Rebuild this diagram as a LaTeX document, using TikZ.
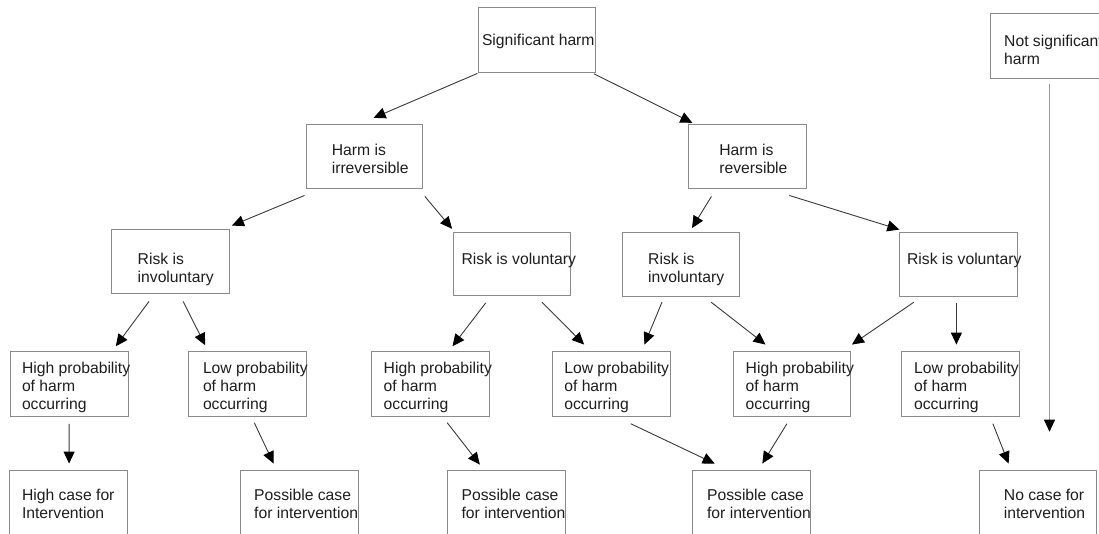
\documentclass[tikz,border=0pt]{standalone}
\usepackage{fontspec}
\setmainfont{Liberation Sans}
\usetikzlibrary{arrows.meta,calc}
\definecolor{boxgray}{HTML}{8A8A8A}
\definecolor{linegray}{HTML}{3A3A3A}
\definecolor{vgray}{HTML}{9A9A9A}
\definecolor{txt}{HTML}{1E1E1E}
\tikzset{
  box/.style={draw=boxgray, line width=0.9pt, inner sep=0pt, minimum width=117.5pt, minimum height=64.5pt},
  lbl/.style={anchor=north west, inner sep=0pt, align=left, text=txt, font=\fontsize{15.7}{18}\selectfont},
  arr/.style={draw=linegray, line width=0.9pt, -{Triangle[length=12pt,width=11pt,color=black]}},
  varr/.style={draw=vgray, line width=0.9pt, -{Triangle[length=12pt,width=11pt,color=black]}}
}
\begin{document}
\begin{tikzpicture}[x=1pt,y=-1pt]
\useasboundingbox (0,0) rectangle (1099,533);
\fill[white] (0,0) rectangle (1099,533);
\clip (0,0) rectangle (1099,533);
% boxes
\node[box, minimum width=116.7pt, minimum height=65pt] (sig) at (536.65,40) {};
\node[box, minimum width=120pt, minimum height=65.4pt] (nsh) at (1050,46) {};
\node[box, minimum width=116.7pt, minimum height=64pt] (hi) at (364.35,156.3) {};
\node[box, minimum width=118.2pt, minimum height=64.3pt] (hr) at (747.7,156.15) {};
\node[box, minimum width=118.2pt, minimum height=64pt] (ril) at (170.6,261.3) {};
\node[box, minimum width=117.6pt, minimum height=63.5pt] (rvl) at (512,264) {};
\node[box, minimum width=117.4pt, minimum height=63.7pt] (rir) at (680.7,264.15) {};
\node[box, minimum width=117.6pt, minimum height=63.7pt] (rvr) at (958.6,264.15) {};
\node[box, minimum height=65pt] (hp1) at (69.25,383.5) {};
\node[box, minimum height=65pt] (lp1) at (247.45,383.5) {};
\node[box, minimum height=65pt] (hp2) at (430.55,383.5) {};
\node[box, minimum height=65pt] (lp2) at (611.25,383.5) {};
\node[box, minimum height=65pt, minimum width=116.8pt] (hp3) at (792.3,383.5) {};
\node[box, minimum height=65pt, minimum width=117.4pt] (lp3) at (960.3,383.5) {};
\node[box, minimum height=70pt] (hc) at (68.4,505) {};
\node[box, minimum height=70pt] (pc1) at (299.35,505) {};
\node[box, minimum height=70pt] (pc2) at (506.3,505) {};
\node[box, minimum height=70pt] (pc3) at (751.65,505) {};
\node[box, minimum height=70pt, minimum width=116.5pt] (nc) at (1038.15,505) {};
% texts
\node[lbl] (sigt) at (481.8,34.2) {Significant harm};
\node[lbl] (nsht) at (1004,34.7) {Not significant\\harm};
\node[lbl] (hit) at (331.6,144.4) {Harm is\\irreversible};
\node[lbl] (hrt) at (719.2,144.4) {Harm is\\reversible};
\node[lbl] (rilt) at (137.5,252.7) {Risk is\\involuntary};
\node[lbl] (rvlt) at (461.4,252.7) {Risk is voluntary};
\node[lbl] (rirt) at (648,252.7) {Risk is\\involuntary};
\node[lbl] (rvrt) at (906.9,252.7) {Risk is voluntary};
\node[lbl] (hp1t) at (21.8,361.7) {High probability\\of harm\\occurring};
\node[lbl] (lp1t) at (202.8,361.7) {Low probability\\of harm\\occurring};
\node[lbl] (hp2t) at (383.5,361.7) {High probability\\of harm\\occurring};
\node[lbl] (lp2t) at (564.1,361.7) {Low probability\\of harm\\occurring};
\node[lbl] (hp3t) at (745.5,361.7) {High probability\\of harm\\occurring};
\node[lbl] (lp3t) at (913.9,361.7) {Low probability\\of harm\\occurring};
\node[lbl] (hct) at (21.8,489.4) {High case for\\Intervention};
\node[lbl] (pc1t) at (254,489.4) {Possible case\\for intervention};
\node[lbl] (pc2t) at (461.4,489.4) {Possible case\\for intervention};
\node[lbl] (pc3t) at (706.9,489.4) {Possible case\\for intervention};
\node[lbl] (nct) at (1003.7,489.4) {No case for\\intervention};
% connectors
\draw[arr] ($(sig.south west)+(-0.5,0.5)$) -- ($(hi.north)+(9.25,-6)$);
\draw[arr] ($(sig.south east)+(-1.5,0.8)$) -- ($(hr.north west)+(4.2,-0.7)$);
\draw[arr] ($(hi.south west)+(-1,6.7)$) -- ($(ril.north east)+(1.8,-3.3)$);
\draw[arr] ($(hi.south east)+(1.7,7.7)$) -- ($(rvl.north west)+(-0.7,-3)$);
\draw[arr] ($(hr.south)+(-36.3,7.7)$) -- ($(rir.north)+(11.3,-3.8)$);
\draw[arr] ($(hr.south)+(41.6,6.7)$) -- ($(rvr.north west)+(0,-2.3)$);
\draw[arr] ($(ril.south)+(-21.6,7.7)$) -- ($(hp1.north)+(46.55,-4.3)$);
\draw[arr] ($(ril.south)+(12.5,7.7)$) -- ($(lp1.north)+(-42.25,-5.3)$);
\draw[arr] ($(rvl.south)+(-26.2,6.6)$) -- ($(hp2.north)+(21.95,-4.3)$);
\draw[arr] ($(rvl.south)+(30,6)$) -- ($(lp2.north)+(-27.15,-6)$);
\draw[arr] ($(rir.south)+(-18.7,5.7)$) -- ($(lp2.north)+(33.15,-6)$);
\draw[arr] ($(rir.south)+(30.4,5.7)$) -- ($(hp3.north)+(-26.8,-6)$);
\draw[arr] ($(rvr.south)+(-44.7,5.7)$) -- ($(hp3.north east)+(0.8,-6)$);
\draw[arr] ($(rvr.south)+(-2.2,6.3)$) -- ($(lp3.north)+(-3.9,-6)$);
\draw[arr] ($(hp1.south)+(-0.15,7.3)$) -- ($(hc.north)+(0.7,-6)$);
\draw[arr] ($(lp1.south)+(6.85,6.3)$) -- ($(pc1.north)+(-25.75,-6)$);
\draw[arr] ($(hp2.south)+(16.65,6.3)$) -- ($(pc2.north)+(-26.5,-5)$);
\draw[arr] ($(lp2.south)+(19.55,7.3)$) -- ($(pc3.north)+(-37,-6)$);
\draw[arr] ($(hp3.south)+(-5.4,7.3)$) -- ($(pc3.north)+(10.65,-6)$);
\draw[arr] ($(lp3.south)+(32.6,7.3)$) -- ($(nc.north)+(-29.55,-6)$);
\coordinate (nshend) at (1049.5,431.7);
\draw[varr] ($(nsh.south)+(-0.5,4.6)$) -- (nshend);
\end{tikzpicture}
\end{document}
